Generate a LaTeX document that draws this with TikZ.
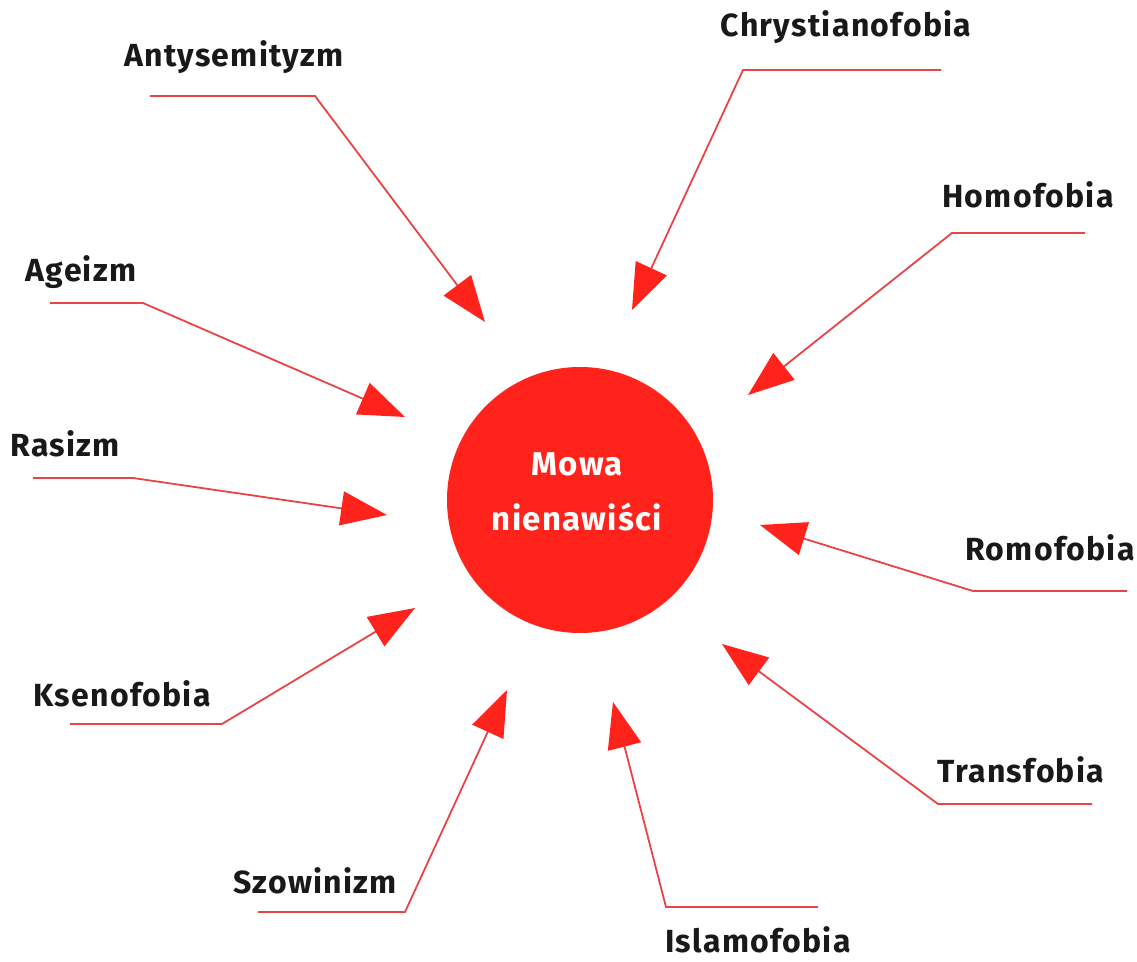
\documentclass[tikz,border=0pt]{standalone}
\usepackage{fontspec}
\setmainfont{Fira Sans}[LetterSpace=4]
\usetikzlibrary{arrows.meta,positioning}

\definecolor{hate}{RGB}{255,35,28}
\definecolor{wire}{RGB}{232,68,70}

\begin{document}
\begin{tikzpicture}[x=0.5pt,y=-0.5pt]
        \tikzstyle{core} = [circle, fill=hate, minimum size=133pt, inner sep=0pt]
        \tikzstyle{term} = [anchor=base, font=\fontsize{16}{19}\selectfont\bfseries, text=black!90]
        \tikzstyle{feed} = [-{Triangle[length=23pt, width=17pt, color=hate]}, draw=wire, line width=0.9pt]

        \useasboundingbox (0,0) rectangle (1137,962);

        \node[core](mowa) at(580, 500) {};
        \node[align=center, text=white, font=\fontsize{16.5}{27.5}\selectfont\bfseries](mowatxt) at(577, 492) {Mowa\\nienawiści};

        \node[term](anty) at(234, 67) {Antysemityzm};
        \node[term](chry) at(846, 37) {Chrystianofobia};
        \node[term](homo) at(1028, 208) {Homofobia};
        \node[term](agei) at(81, 282) {Ageizm};
        \node[term](rasi) at(65, 457) {Rasizm};
        \node[term](romo) at(1050, 561) {Romofobia};
        \node[term](ksen) at(122, 707) {Ksenofobia};
        \node[term](tran) at(1021, 783) {Transfobia};
        \node[term](szow) at(315, 894) {Szowinizm};
        \node[term](isla) at(758, 953) {Islamofobia};

        % line ends, knees and tips
        \coordinate (antyA) at(150, 96);   \coordinate (antyB) at(315, 96);   \coordinate (antyC) at(485, 322);
        \coordinate (chryA) at(941, 70);   \coordinate (chryB) at(743, 70);   \coordinate (chryC) at(632, 310);
        \coordinate (homoA) at(1085, 233); \coordinate (homoB) at(952, 233);  \coordinate (homoC) at(748, 395);
        \coordinate (ageiA) at(50, 303);   \coordinate (ageiB) at(143, 303);  \coordinate (ageiC) at(405, 417);
        \coordinate (rasiA) at(33, 478);   \coordinate (rasiB) at(133, 478);  \coordinate (rasiC) at(387, 515);
        \coordinate (romoA) at(1127, 591); \coordinate (romoB) at(973, 591);  \coordinate (romoC) at(760, 525);
        \coordinate (ksenA) at(70, 724);   \coordinate (ksenB) at(222, 724);  \coordinate (ksenC) at(415, 608);
        \coordinate (tranA) at(1092, 804); \coordinate (tranB) at(938, 804);  \coordinate (tranC) at(722, 644);
        \coordinate (szowA) at(258, 912);  \coordinate (szowB) at(405, 912);  \coordinate (szowC) at(507, 690);
        \coordinate (islaA) at(818, 907);  \coordinate (islaB) at(666, 907);  \coordinate (islaC) at(613, 702);

        \draw[feed] (antyA) -- (antyB) -- (antyC);
        \draw[feed] (chryA) -- (chryB) -- (chryC);
        \draw[feed] (homoA) -- (homoB) -- (homoC);
        \draw[feed] (ageiA) -- (ageiB) -- (ageiC);
        \draw[feed] (rasiA) -- (rasiB) -- (rasiC);
        \draw[feed] (romoA) -- (romoB) -- (romoC);
        \draw[feed] (ksenA) -- (ksenB) -- (ksenC);
        \draw[feed] (tranA) -- (tranB) -- (tranC);
        \draw[feed] (szowA) -- (szowB) -- (szowC);
        \draw[feed] (islaA) -- (islaB) -- (islaC);
    \end{tikzpicture}
\end{document}
